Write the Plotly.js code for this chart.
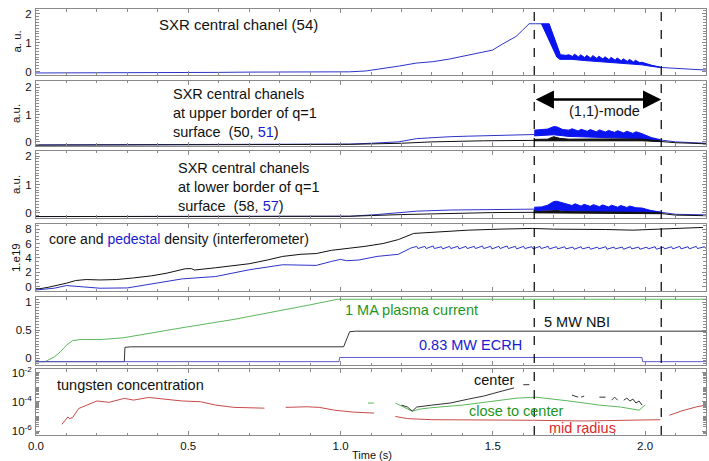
<!DOCTYPE html>
<html>
<head>
<meta charset="utf-8">
<script src="https://cdn.plot.ly/plotly-3.0.1.min.js"></script>
<style>html,body{margin:0;padding:0;background:#fff;}#chart{width:709px;height:461px;}</style>
</head>
<body>
<div id="chart"></div>
<script>
// ---------- DATA ----------
// time boundaries of the (1,1)-mode (s)
const modeBounds = [1.636, 2.053];

// Panel 1: SXR central channel (54)
const p1T = [0,0.1,0.2,0.3,0.4,0.5,0.6,0.7,0.8,0.9,1.0,1.03,1.084,1.139,1.193,1.248,1.303,1.357,1.412,1.466,1.499,1.532,1.554,1.576,1.597,1.619,1.64,1.66,1.70,1.72,1.75,1.80,1.85,1.90,1.95,2.0,2.05,2.1,2.15,2.2];
const p1V = [-0.05,-0.05,-0.04,-0.04,-0.03,-0.03,-0.03,-0.02,-0.02,-0.02,-0.01,-0.01,0.02,0.10,0.19,0.29,0.34,0.43,0.54,0.66,0.74,0.95,1.09,1.21,1.42,1.65,1.65,1.65,0.8,0.5,0.5,0.47,0.42,0.36,0.31,0.26,0.14,0.11,0.08,0.05];
const p1LoT = [1.66,1.71,1.72,1.76,1.80,1.85,1.90,1.95,1.99,2.02,2.05];
const p1Lo  = [1.65,0.5,0.42,0.42,0.38,0.34,0.30,0.26,0.23,0.18,0.14];
const p1HiT = [1.66,1.685,1.722,1.74,1.75,1.762,1.768,1.782,1.788,1.802,1.808,1.822,1.828,1.842,1.848,1.862,1.868,1.882,1.888,1.902,1.908,1.922,1.928,1.942,1.948,1.962,1.968,1.982,1.99,2.02,2.05];
const p1Hi  = [1.65,1.65,0.58,0.56,0.58,0.52,0.6,0.5,0.58,0.48,0.56,0.46,0.55,0.45,0.53,0.43,0.51,0.41,0.49,0.39,0.47,0.37,0.44,0.35,0.42,0.33,0.39,0.31,0.32,0.22,0.15];

// Panel 2: channels 50 (black), 51 (blue)
const p2BlueT = [0,0.3,0.6,0.9,1.03,1.1,1.19,1.25,1.3,1.36,1.42,1.47,1.55,1.636,1.7,1.8,1.9,2.0,2.05,2.1,2.2];
const p2BlueV = [-0.11,-0.1,-0.1,-0.09,-0.08,-0.05,0.0,0.12,0.16,0.19,0.21,0.22,0.25,0.27,0.35,0.3,0.26,0.14,0.06,0.0,-0.05];
const p2BlueLoT = [1.636,1.70,1.75,1.85,1.95,2.0,2.05];
const p2BlueLo  = [0.22,0.26,0.2,0.17,0.13,0.08,0.05];
const p2BlueHiT = [1.636,1.66,1.68,1.70,1.71,1.73,1.75,1.76,1.78,1.79,1.81,1.82,1.84,1.85,1.87,1.88,1.90,1.91,1.93,1.94,1.96,1.97,1.99,2.02,2.05];
const p2BlueHi  = [0.43,0.44,0.47,0.56,0.55,0.45,0.43,0.48,0.4,0.46,0.39,0.45,0.37,0.44,0.36,0.42,0.35,0.41,0.33,0.39,0.31,0.37,0.3,0.16,0.08];
const p2BlackT = [0,0.3,0.6,0.9,1.03,1.2,1.3,1.47,1.636,1.8,2.0,2.05,2.1,2.2];
const p2BlackV = [-0.12,-0.11,-0.11,-0.1,-0.09,-0.05,0.0,0.04,0.06,0.07,0.06,0.02,-0.03,-0.07];
const p2BlackLoT = [1.636,1.8,1.99,2.05];
const p2BlackLo  = [0.04,0.05,0.04,0.01];
const p2BlackHiT = [1.636,1.68,1.70,1.72,1.75,1.8,1.9,1.99,2.05];
const p2BlackHi  = [0.09,0.1,0.19,0.13,0.1,0.11,0.11,0.1,0.03];

// Panel 3: channels 58 (black), 57 (blue)
const p3BlueT = [0,0.5,0.9,1.03,1.12,1.19,1.25,1.36,1.5,1.636,1.8,2.0,2.05,2.1,2.2];
const p3BlueV = [-0.13,-0.13,-0.12,-0.12,-0.06,0.0,0.06,0.1,0.11,0.12,0.15,0.1,0.02,-0.05,-0.07];
const p3BlueLoT = [1.636,1.7,1.8,1.9,1.99,2.05];
const p3BlueLo  = [0.08,0.1,0.06,0.04,0.03,0.0];
const p3BlueHiT = [1.636,1.66,1.68,1.70,1.71,1.72,1.74,1.76,1.77,1.79,1.80,1.82,1.83,1.85,1.86,1.88,1.89,1.91,1.92,1.94,1.95,1.97,1.99,2.02,2.05];
const p3BlueHi  = [0.2,0.21,0.27,0.4,0.41,0.38,0.3,0.26,0.32,0.24,0.3,0.23,0.29,0.22,0.28,0.21,0.27,0.2,0.26,0.19,0.24,0.18,0.17,0.08,0.03];
const p3BlackT = [0,0.5,0.9,1.03,1.2,1.36,1.5,1.636,1.8,2.0,2.05,2.1,2.2];
const p3BlackV = [-0.13,-0.13,-0.12,-0.12,-0.06,-0.01,0.01,0.02,0.02,0.02,-0.02,-0.08,-0.1];
const p3BlackLoT = [1.636,1.99,2.05];
const p3BlackLo  = [0.0,-0.01,-0.03];
const p3BlackHiT = [1.636,1.69,1.71,1.73,1.8,1.9,1.99,2.05];
const p3BlackHi  = [0.04,0.05,0.08,0.05,0.04,0.04,0.03,0.0];

// Panel 4: density (1e19 m^-3)
const coreT = [0,0.013,0.04,0.07,0.1,0.13,0.165,0.21,0.265,0.32,0.38,0.43,0.49,0.51,0.52,0.59,0.70,0.76,0.81,0.87,0.92,0.97,1.03,1.08,1.14,1.19,1.24,1.31,1.42,1.52,1.63,1.70,1.79,1.87,1.96,2.05,2.12,2.19];
const coreV = [-0.3,-0.3,-0.1,0.14,0.47,0.84,0.98,0.92,0.98,1.2,1.5,1.87,2.48,2.5,2.3,2.62,3.18,3.7,4.2,4.5,4.6,5.05,5.3,5.6,6.0,6.55,7.4,7.6,7.86,8.0,8.1,8.0,8.0,7.95,7.86,8.0,8.1,8.24];
const pedT = [0,0.06,0.1,0.13,0.21,0.30,0.375,0.48,0.59,0.70,0.81,0.92,0.97,1.0,1.02,1.06,1.12,1.19,1.23,
  1.25,1.254,1.277,1.281,1.304,1.308,1.331,1.335,1.358,1.362,1.385,1.389,1.412,1.416,1.439,1.443,1.466,1.470,
  1.493,1.497,1.520,1.524,1.547,1.551,1.574,1.578,1.601,1.605,1.628,1.632,1.655,1.659,1.682,1.686,1.709,1.713,
  1.736,1.740,1.763,1.767,1.790,1.794,1.817,1.821,1.844,1.848,1.871,1.875,1.898,1.902,1.925,1.929,1.952,1.956,
  1.979,1.983,2.006,2.010,2.033,2.037,2.060,2.064,2.087,2.091,2.114,2.118,2.141,2.145,2.168,2.172,2.195,2.199];
const pedV = [-0.47,-0.23,0.14,0.05,-0.23,-0.19,0.37,1.07,1.4,2.34,3.04,2.95,3.5,3.79,3.6,3.7,4.2,4.5,5.35,
  5.6,5.3,5.6,5.3,5.65,5.3,5.55,5.25,5.6,5.3,5.6,5.25,5.6,5.3,5.6,5.3,5.65,5.3,
  5.6,5.25,5.6,5.3,5.65,5.3,5.6,5.25,5.6,5.3,5.55,5.25,5.6,5.3,5.6,5.25,5.55,5.25,
  5.55,5.25,5.5,5.2,5.55,5.25,5.5,5.2,5.5,5.25,5.55,5.2,5.5,5.25,5.5,5.2,5.55,5.25,
  5.5,5.2,5.5,5.25,5.55,5.2,5.5,5.25,5.55,5.25,5.6,5.25,5.55,5.25,5.6,5.3,5.55,5.3];

// Panel 5: plasma current (MA), NBI and ECRH power (a.u.)
const ipT = [0,0.03,0.06,0.08,0.1,0.12,0.145,0.21,0.285,0.37,0.49,0.65,0.79,0.9,0.99,1.1,1.5,2.0,2.2];
const ipV = [-0.065,-0.065,0.02,0.11,0.23,0.31,0.33,0.33,0.36,0.44,0.55,0.69,0.83,0.95,1.05,1.05,1.05,1.05,1.05];
const nbiT = [0,0.29,0.292,0.31,1.01,1.03,1.05,2.2];
const nbiV = [-0.065,-0.065,0.19,0.2,0.2,0.47,0.48,0.48];
const ecrhT = [0,0.995,0.997,1.99,1.992,2.2];
const ecrhV = [-0.065,-0.065,0.01,0.01,-0.065,-0.065];

// Panel 6: tungsten concentration
const wMidT = [0.085,0.105,0.11,0.12,0.14,0.17,0.2,0.24,0.29,0.32,0.37,0.42,0.48,0.54,0.59,0.65,0.75,null,0.82,0.89,0.93,0.98,1.04,1.11,null,1.18,1.22,1.3,1.46,1.63,1.8,2.05,null,2.08,2.12,2.17,2.2];
const wMidV = [2.9e-6,9.3e-6,7.1e-6,8.3e-6,3.5e-5,6.0e-5,1.15e-4,9.3e-5,1.74e-4,1.32e-4,2.0e-4,1.55e-4,1.15e-4,1.02e-4,6.0e-5,4.2e-5,3.7e-5,null,4.2e-5,4.6e-5,4.2e-5,2.7e-5,2.0e-5,1.7e-5,null,1.0e-5,7.1e-6,6.0e-6,6.0e-6,5.5e-6,4.9e-6,6.0e-6,null,1.2e-5,2.4e-5,4.6e-5,6.0e-5];
const wCloseT = [1.09,1.11,null,1.18,1.21,1.235,1.26,1.3,1.4,1.5,1.58,1.64,1.7,1.75,1.85,1.92,1.98,2.0];
const wCloseV = [8.3e-5,8.3e-5,null,8.3e-5,4.4e-5,2.3e-5,3.2e-5,4.0e-5,6.0e-5,1.15e-4,1.8e-4,2.1e-4,1.55e-4,1.15e-4,6.0e-5,4.4e-5,2.7e-5,6.0e-5];
const wCenT = [1.2,1.22,1.235,1.25,1.3,1.36,1.42,1.47,1.52,1.57,null,1.6,1.62,null,1.76,1.78,null,1.79,1.80,null,1.85,1.87,null,1.89,1.9,1.91,null,1.93,1.94,1.95,1.96,1.97,1.98,1.99];
const wCenV = [6.0e-5,4.4e-5,2.3e-5,4.4e-5,6.0e-5,8.3e-5,1.55e-4,2.5e-4,4.8e-4,9.1e-4,null,1.5e-3,1.5e-3,null,2.9e-4,2.1e-4,null,2.1e-4,2.5e-4,null,2.1e-4,2.1e-4,null,1.3e-4,2.1e-4,1.3e-4,null,1.3e-4,1.8e-4,1.15e-4,1.55e-4,8.3e-5,1.15e-4,6.0e-5];

// ---------- STYLE ----------
const BLUE = '#2c34c8', BAND = '#0a14f0', BLACK = '#111111';
const GREEN_L = '#5cb85c', GREEN_T = '#1e961e', RED_L = '#c84a4a', RED_T = '#e02828';
const ECRH = '#5a5ad2', NBI = '#333333';
const FONT = 'Liberation Sans, Arial, Helvetica, sans-serif';
const AX = '#8a8a8a';

const traces = [];
function line(x, y, ax, color, w) {
  traces.push({x: x, y: y, xaxis: 'x' + (ax === 1 ? '' : ax), yaxis: 'y' + (ax === 1 ? '' : ax),
    mode: 'lines', line: {color: color, width: w || 1}, hoverinfo: 'skip', showlegend: false, connectgaps: false});
}
function band(xl, yl, xh, yh, ax, color) {
  const a = 'x' + (ax === 1 ? '' : ax), b = 'y' + (ax === 1 ? '' : ax);
  traces.push({x: xl, y: yl, xaxis: a, yaxis: b, mode: 'lines', line: {color: color, width: 1}, hoverinfo: 'skip', showlegend: false});
  traces.push({x: xh, y: yh, xaxis: a, yaxis: b, mode: 'lines', line: {color: color, width: 1}, fill: 'tonexty', fillcolor: color, hoverinfo: 'skip', showlegend: false});
}

line(p1T, p1V, 1, BLUE);
band(p1LoT, p1Lo, p1HiT, p1Hi, 1, BAND);

line(p2BlueT, p2BlueV, 2, BLUE);
band(p2BlueLoT, p2BlueLo, p2BlueHiT, p2BlueHi, 2, BAND);
line(p2BlackT, p2BlackV, 2, BLACK);
band(p2BlackLoT, p2BlackLo, p2BlackHiT, p2BlackHi, 2, BLACK);

line(p3BlueT, p3BlueV, 3, BLUE);
band(p3BlueLoT, p3BlueLo, p3BlueHiT, p3BlueHi, 3, BAND);
line(p3BlackT, p3BlackV, 3, BLACK);
band(p3BlackLoT, p3BlackLo, p3BlackHiT, p3BlackHi, 3, BLACK);

line(coreT, coreV, 4, BLACK);
line(pedT, pedV, 4, BLUE);

line(ipT, ipV, 5, GREEN_L);
line(nbiT, nbiV, 5, NBI);
line(ecrhT, ecrhV, 5, ECRH);

line(wMidT, wMidV, 6, RED_L);
line(wCloseT, wCloseV, 6, GREEN_L);
line(wCenT, wCenV, 6, '#333333');

// ---------- LAYOUT ----------
const domains = [[0.8276,0.9793],[0.6644,0.8138],[0.4989,0.6529],[0.3310,0.4851],[0.1609,0.3172],[0,0.1517]];
const yRanges = [[-0.12,2.16],[-0.15,2.23],[-0.18,2.18],[-0.62,8.72],[-0.125,1.09],[-6.27,-1.75]];
const yDticks = [1,1,1,2,0.5,null];
const yMinor  = [0.1,0.1,0.1,0.5,0.05,'D1'];

const layout = {
  width: 709, height: 461,
  margin: {l: 36, r: 3, t: 0, b: 26},
  paper_bgcolor: '#ffffff', plot_bgcolor: '#ffffff',
  font: {family: FONT, size: 12, color: '#111'},
  showlegend: false,
  shapes: [], annotations: []
};
for (let i = 1; i <= 6; i++) {
  const s = i === 1 ? '' : String(i);
  layout['xaxis' + s] = {
    domain: [0, 1], range: [0, 2.2], anchor: 'y' + s,
    ticks: 'inside', ticklen: 4, tickwidth: 1, tickcolor: AX, tick0: 0, dtick: 0.5,
    minor: {dtick: 0.1, ticks: 'inside', ticklen: 2.5, tickcolor: AX, showgrid: false},
    showline: true, linecolor: AX, linewidth: 1, mirror: 'allticks',
    showgrid: false, zeroline: false, showticklabels: i === 6, tickformat: '.1f',
    ticklabelstandoff: 0,
    tickfont: {size: 11.5, color: '#111', family: FONT}
  };
  const ya = {
    domain: domains[i - 1], range: yRanges[i - 1], anchor: 'x' + s,
    ticks: 'inside', ticklen: 4, tickwidth: 1, tickcolor: AX,
    minor: {dtick: yMinor[i - 1], ticks: 'inside', ticklen: 3, tickcolor: AX, showgrid: false},
    showline: true, linecolor: AX, linewidth: 1, mirror: 'allticks',
    showgrid: false, zeroline: false, ticklabelstandoff: 1,
    tickfont: {size: 11.5, color: '#111', family: FONT}
  };
  if (i < 6) { ya.tick0 = 0; ya.dtick = yDticks[i - 1]; }
  else {
    ya.type = 'log';
    ya.tickmode = 'array';
    ya.tickvals = [1e-6, 1e-4, 1e-2];
    ya.ticktext = ['10<sup>-6</sup>', '10<sup>-4</sup>', '10<sup>-2</sup>'];
  }
  layout['yaxis' + s] = ya;
}

// dashed vertical lines marking the (1,1)-mode
modeBounds.forEach(function (t) {
  layout.shapes.push({type: 'line', xref: 'x', yref: 'paper', x0: t, x1: t, y0: 0, y1: 0.9793,
    line: {color: '#000', width: 1.2, dash: 'dash'}});
});

function txt(text, x, y, ax, color, size) {
  const s = ax === 1 ? '' : String(ax);
  layout.annotations.push({text: text, x: x, y: y, xref: 'x' + s, yref: 'y' + s,
    xanchor: 'left', yanchor: 'middle', align: 'left', showarrow: false,
    font: {family: FONT, size: size || 14.5, color: color || '#111'}});
}
txt('SXR central chanel (54)', 0.397, 1.61, 1, '#111', 15);
txt('SXR central chanels<br>at upper border of q=1<br>surface  (50, <span style="color:#1a1ad0">51</span>)', 0.443, 1.055, 2, '#111', 14.5);
txt('SXR central chanels<br>at lower border of q=1<br>surface  (58, <span style="color:#1a1ad0">57</span>)', 0.459, 0.905, 3, '#111', 14.5);
txt('(1,1)-mode', 1.744, 1.13, 2, '#111', 14.5);
txt('core and <span style="color:#1a1ad0">pedestal</span> density (interferometer)', 0.036, 6.57, 4, '#111', 14);
txt('1 MA plasma current', 1.007, 0.86, 5, GREEN_T, 14.5);
txt('5 MW NBI', 1.662, 0.64, 5, '#111', 14.5);
txt('0.83 MW ECRH', 1.252, 0.23, 5, '#1a1ad0', 14.5);
txt('tungsten concentration', 0.062, -2.83, 6, '#111', 14.5);
txt('center', 1.43, -2.49, 6, '#111', 14.5);
txt('close to center', 1.416, -4.62, 6, GREEN_T, 14.5);
txt('mid radius', 1.679, -5.82, 6, RED_T, 14.5);

// double-headed arrow for the mode duration
layout.annotations.push({x: modeBounds[1], y: 1.55, ax: modeBounds[0], ay: 1.55,
  xref: 'x2', yref: 'y2', axref: 'x2', ayref: 'y2', text: '', showarrow: true,
  arrowside: 'end+start', arrowhead: 2, arrowsize: 1.4, arrowwidth: 2.6, arrowcolor: '#000', standoff: 0, startstandoff: 0});

// y-axis titles
const yTitles = [['a. u.', 0], ['a.u.', 1], ['a.u.', 2], ['1.e19', 3]];
yTitles.forEach(function (p) {
  const d = domains[p[1]];
  layout.annotations.push({text: p[0], xref: 'paper', yref: 'paper', x: -0.029, y: (d[0] + d[1]) / 2,
    textangle: -90, showarrow: false, xanchor: 'center', yanchor: 'middle',
    font: {family: FONT, size: 11.5, color: '#111'}});
});
layout.annotations.push({text: 'Time (s)', xref: 'paper', yref: 'paper', x: 0.502, y: -0.046,
  showarrow: false, xanchor: 'center', yanchor: 'middle', font: {family: FONT, size: 11, color: '#111'}});

Plotly.newPlot('chart', traces, layout, {staticPlot: true, displayModeBar: false});
</script>
</body>
</html>
